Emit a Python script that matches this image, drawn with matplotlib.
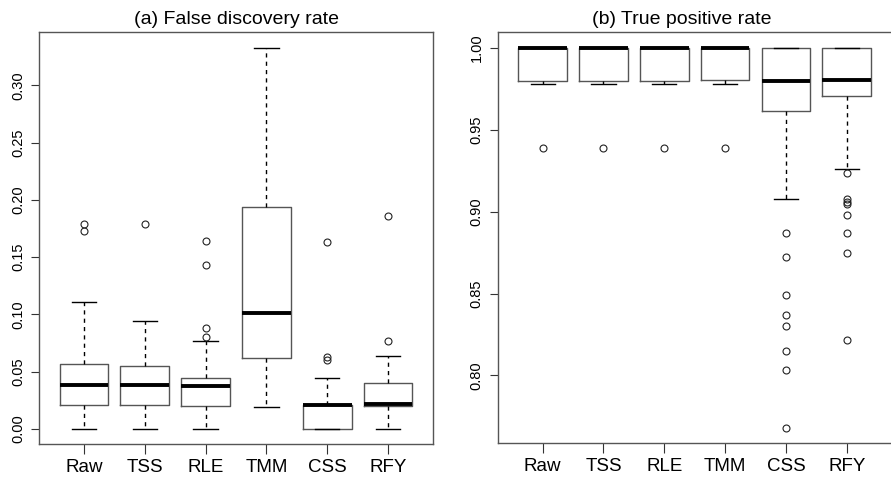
import numpy as np
import matplotlib
matplotlib.use('Agg')
import matplotlib.pyplot as plt

plt.rcParams['font.family'] = ['Liberation Sans', 'DejaVu Sans']

methods = ['Raw', 'TSS', 'RLE', 'TMM', 'CSS', 'RFY']

# (a) false discovery rate: lower whisker, Q1, median, Q3, upper whisker, outliers
fdr_whislo = [0.0, 0.0, 0.0, 0.019, 0.0, 0.0]
fdr_q1 = [0.0204, 0.0204, 0.0200, 0.0618, 0.0, 0.0200]
fdr_med = [0.0385, 0.0385, 0.0376, 0.101, 0.0205, 0.0215]
fdr_q3 = [0.0568, 0.0545, 0.0440, 0.1935, 0.0212, 0.0400]
fdr_whishi = [0.111, 0.0944, 0.077, 0.333, 0.0443, 0.0638]
fdr_out = [[0.1792, 0.1724],
           [0.179],
           [0.080, 0.0877, 0.143, 0.164],
           [],
           [0.0597, 0.063, 0.163],
           [0.077, 0.1856]]

# (b) true positive rate
tpr_whislo = [0.978, 0.978, 0.978, 0.978, 0.9077, 0.926]
tpr_q1 = [0.980, 0.980, 0.980, 0.9806, 0.9617, 0.9707]
tpr_med = [1.0, 1.0, 1.0, 1.0, 0.9796, 0.9804]
tpr_q3 = [1.0, 1.0, 1.0, 1.0, 1.0, 1.0]
tpr_whishi = [1.0, 1.0, 1.0, 1.0, 1.0, 1.0]
tpr_out = [[0.9389], [0.9389], [0.9389], [0.9389],
           [0.887, 0.8726, 0.8492, 0.837, 0.8303, 0.815, 0.8034, 0.7677],
           [0.9236, 0.9077, 0.9062, 0.9048, 0.898, 0.8873, 0.8747, 0.8217]]


def make_stats(lo, q1, med, q3, hi, out):
    st = []
    for i in range(len(methods)):
        st.append(dict(whislo=lo[i], q1=q1[i], med=med[i], q3=q3[i],
                       whishi=hi[i], fliers=out[i], label=methods[i]))
    return st


def draw(ax, stats, title, tx=0.5):
    ax.bxp(stats, positions=range(1, 7), widths=0.8, capwidths=0.4,
           showfliers=True,
           boxprops=dict(color='#555555', linewidth=1.0),
           medianprops=dict(color='black', linewidth=2.8, solid_capstyle='butt'),
           whiskerprops=dict(color='black', linewidth=1.0, linestyle=(0, (3, 3))),
           capprops=dict(color='black', linewidth=1.0),
           flierprops=dict(marker='o', markersize=5, markerfacecolor='none',
                           markeredgecolor='#222222', markeredgewidth=0.8))
    ax.set_xlim(0.26, 6.74)
    ax.set_title(title, fontsize=14, x=tx, pad=6)
    for s in ax.spines.values():
        s.set_color('#555555')
        s.set_linewidth(1.0)
    ax.tick_params(axis='x', labelsize=13.5, length=7, pad=4, color='#333333')
    ax.tick_params(axis='y', labelsize=10.5, length=6, pad=4, color='#333333')


fig = plt.figure(figsize=(8.91, 4.78), dpi=100)
ax1 = fig.add_axes([39 / 891, 34 / 478, 394 / 891, 412 / 478])
ax2 = fig.add_axes([497.7 / 891, 35 / 478, 394 / 891, 411 / 478])

draw(ax1, make_stats(fdr_whislo, fdr_q1, fdr_med, fdr_q3, fdr_whishi, fdr_out),
     '(a) False discovery rate')
ax1.set_ylim(-0.0133, 0.3466)
ax1.set_yticks([0.0, 0.05, 0.10, 0.15, 0.20, 0.25, 0.30])
ax1.set_yticklabels(['0.00', '0.05', '0.10', '0.15', '0.20', '0.25', '0.30'],
                    rotation=90, va='center')

draw(ax2, make_stats(tpr_whislo, tpr_q1, tpr_med, tpr_q3, tpr_whishi, tpr_out),
     '(b) True positive rate', tx=0.468)
ax2.set_ylim(0.7587, 1.0098)
ax2.set_yticks([0.80, 0.85, 0.90, 0.95, 1.00])
ax2.set_yticklabels(['0.80', '0.85', '0.90', '0.95', '1.00'],
                    rotation=90, va='center')

fig.savefig('out.png', dpi=100)
